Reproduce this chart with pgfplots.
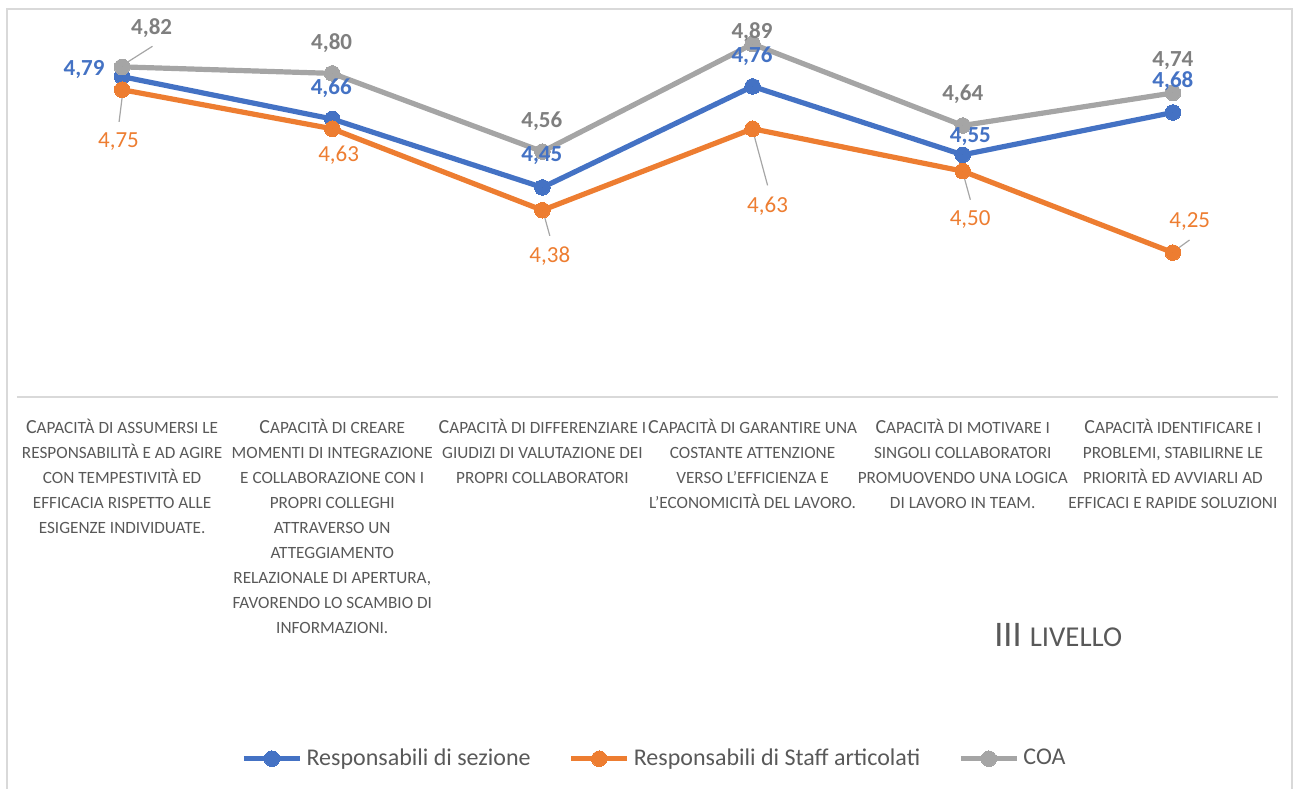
\documentclass[border=0pt]{standalone}
\usepackage{pgfplots}
\pgfplotsset{compat=1.18}
\usepackage{pgfplotstable}
\usepackage{fontspec}
\setmainfont{Carlito}
\definecolor{cblue}{HTML}{4472C4}
\definecolor{corange}{HTML}{ED7D31}
\definecolor{cgray}{HTML}{A5A5A5}
\definecolor{lgray}{HTML}{7F7F7F}
\definecolor{tgray}{HTML}{595959}
\definecolor{axgray}{HTML}{D9D9D9}
\definecolor{leadgray}{HTML}{A6A6A6}
\newcommand{\sm}[1]{{\fontsize{8.6}{12.5}\selectfont #1}}

\pgfplotstableread{
x y dx dy
0 4.79 -19 3.5
1 4.66 -0.5 15.5
2 4.45 -0.3 15.8
3 4.76 -0.3 15
4 4.55 3.8 9
5 4.68 0 15.8
}\tblue
\pgfplotstableread{
x y dx dy
0 4.75 -1.8 -25.8
1 4.63 3.2 -13.2
2 4.38 3.7 -22.7
3 4.63 7.5 -38.8
4 4.50 3.7 -24.3
5 4.25 8.4 15.5
}\torange
\pgfplotstableread{
x y dx dy
0 4.82 14.8 19.4
1 4.80 -0.3 15.3
2 4.56 -0.3 15
3 4.89 -0.3 6.2
4 4.64 0 15.5
5 4.74 0 16.1
}\tgray

\begin{document}
\begin{tikzpicture}
\begin{axis}[
  scale only axis, width=630.5pt, height=195.5pt,
  xmin=-0.5, xmax=5.5, ymin=3.8068, ymax=5.0068,
  axis y line=none, axis x line*=bottom,
  x axis line style={draw=axgray, line width=0.75pt},
  xtick={0,...,5}, major tick length=0pt, ytick=\empty,
  xticklabels={
    {C\sm{APACITÀ DI ASSUMERSI LE}\\\sm{RESPONSABILITÀ E AD AGIRE}\\\sm{CON TEMPESTIVITÀ ED}\\\sm{EFFICACIA RISPETTO ALLE}\\\sm{ESIGENZE INDIVIDUATE.}},
    {C\sm{APACITÀ DI CREARE}\\\sm{MOMENTI DI INTEGRAZIONE}\\\sm{E COLLABORAZIONE CON I}\\\sm{PROPRI COLLEGHI}\\\sm{ATTRAVERSO UN}\\\sm{ATTEGGIAMENTO}\\\sm{RELAZIONALE DI APERTURA,}\\\sm{FAVORENDO LO SCAMBIO DI}\\\sm{INFORMAZIONI.}},
    {C\sm{APACITÀ DI DIFFERENZIARE I}\\\sm{GIUDIZI DI VALUTAZIONE DEI}\\\sm{PROPRI COLLABORATORI}},
    {C\sm{APACITÀ DI GARANTIRE UNA}\\\sm{COSTANTE ATTENZIONE}\\\sm{VERSO L’EFFICIENZA E}\\\sm{L’ECONOMICITÀ DEL LAVORO.}},
    {C\sm{APACITÀ DI MOTIVARE I}\\\sm{SINGOLI COLLABORATORI}\\\sm{PROMUOVENDO UNA LOGICA}\\\sm{DI LAVORO IN TEAM.}},
    {C\sm{APACITÀ IDENTIFICARE I}\\\sm{PROBLEMI, STABILIRNE LE}\\\sm{PRIORITÀ ED AVVIARLI AD}\\\sm{EFFICACI E RAPIDE SOLUZIONI}}
  },
  xticklabel style={font=\fontsize{10}{12.5}\selectfont, text=tgray, align=center, anchor=north, inner sep=0pt, yshift=-11pt},
  clip=false,
  /pgf/number format/assume math mode=true,
  legend style={at={(axis description cs:0.5063,-0.925)}, anchor=center, draw=none, fill=none,
    font=\fontsize{12}{14}\selectfont, text=tgray, legend columns=-1,
    /tikz/every even column/.append style={column sep=17pt}},
  legend image code/.code={\draw[#1, mark repeat=2, mark phase=2] plot coordinates {(0pt,0pt) (14pt,0pt) (28pt,0pt)};},
  every axis plot/.append style={line width=2.6pt, mark=*, mark size=3.9pt},
]
\addplot[cblue, mark options={fill=cblue, draw=cblue, line width=0pt}] table[x=x,y=y] {\tblue};
\addlegendentry{Responsabili di sezione}
\addplot[corange, mark options={fill=corange, draw=corange, line width=0pt}] table[x=x,y=y] {\torange};
\addlegendentry{Responsabili di Staff articolati}
\addplot[cgray, mark options={fill=cgray, draw=cgray, line width=0pt}] table[x=x,y=y] {\tgray};
\addlegendentry{COA}

\addplot[forget plot, only marks, mark=*, mark size=0pt, mark options={draw=none, fill=none},
  visualization depends on={\thisrow{dx}\as\dx},
  visualization depends on={\thisrow{dy}\as\dy},
  nodes near coords={\pgfmathprintnumber[fixed,fixed zerofill,precision=2,use comma]{\pgfplotspointmeta}},
  nodes near coords style={anchor=center, inner sep=0pt, xshift=\dx pt, yshift=\dy pt, text=cblue, font=\fontsize{11.5}{13}\selectfont\bfseries}]
  table[x=x,y=y] {\tblue};
\addplot[forget plot, only marks, mark=*, mark size=0pt, mark options={draw=none, fill=none},
  visualization depends on={\thisrow{dx}\as\dx},
  visualization depends on={\thisrow{dy}\as\dy},
  nodes near coords={\pgfmathprintnumber[fixed,fixed zerofill,precision=2,use comma]{\pgfplotspointmeta}},
  nodes near coords style={anchor=center, inner sep=0pt, xshift=\dx pt, yshift=\dy pt, text=corange, font=\fontsize{11.5}{13}\selectfont}]
  table[x=x,y=y] {\torange};
\addplot[forget plot, only marks, mark=*, mark size=0pt, mark options={draw=none, fill=none},
  visualization depends on={\thisrow{dx}\as\dx},
  visualization depends on={\thisrow{dy}\as\dy},
  nodes near coords={\pgfmathprintnumber[fixed,fixed zerofill,precision=2,use comma]{\pgfplotspointmeta}},
  nodes near coords style={anchor=center, inner sep=0pt, xshift=\dx pt, yshift=\dy pt, text=lgray, font=\fontsize{11.5}{13}\selectfont\bfseries}]
  table[x=x,y=y] {\tgray};

\draw[leadgray, line width=0.6pt] (axis cs:0,4.82) ++(2.6pt,2.3pt) -- ++(12.6pt,8pt);
\draw[leadgray, line width=0.6pt] (axis cs:0,4.75) ++(0.5pt,0pt) -- ++(-2pt,-16.1pt);
\draw[leadgray, line width=0.6pt] (axis cs:2,4.38) ++(0.3pt,-0.5pt) -- ++(3.4pt,-12.3pt);
\draw[leadgray, line width=0.6pt] (axis cs:3,4.63) ++(0pt,-0.5pt) -- ++(7.5pt,-27.8pt);
\draw[leadgray, line width=0.6pt] (axis cs:4,4.50) ++(0pt,-0.5pt) -- ++(3.8pt,-13.8pt);
\draw[leadgray, line width=0.6pt] (axis cs:5,4.25) ++(0.3pt,0.5pt) -- ++(8pt,5.8pt);
\end{axis}
\node[anchor=base west, inner sep=0pt, text=tgray] at (488.5pt,-124.5pt)
  {\fontsize{18}{20}\selectfont III {\fontsize{14.4}{16}\selectfont LIVELLO}};
\pgfresetboundingbox
\path[use as bounding box] (-8.5pt,-195.5pt) rectangle (638pt,198.5pt);
\draw[axgray, line width=0.75pt] (-5pt,-199pt) -- (-5pt,194pt) -- (637.5pt,194pt) -- (637.5pt,-199pt);
\end{tikzpicture}
\end{document}
